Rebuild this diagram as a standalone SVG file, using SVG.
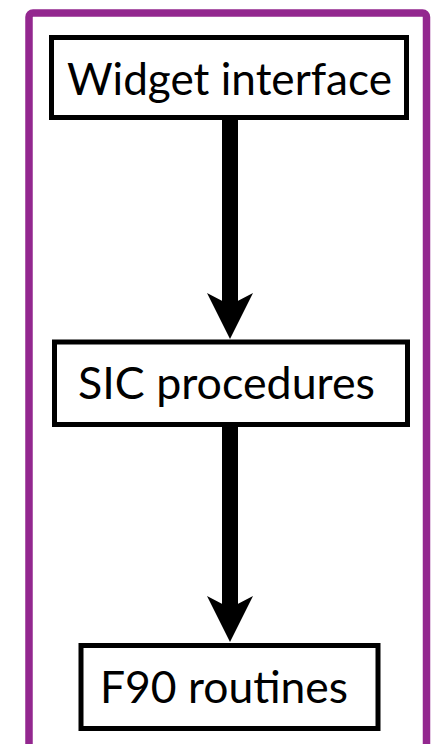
<svg xmlns="http://www.w3.org/2000/svg" width="432" height="744" viewBox="0 0 432 744">
  <style>
    .box { fill: #ffffff; stroke: #000000; stroke-width: 5; }
    .label { font-family: "Lato", "Open Sans", "Liberation Sans", sans-serif; font-size: 45px; fill: #000000; text-anchor: middle; }
    .flow { stroke: #000000; stroke-width: 16; fill: none; }
  </style>
  <defs>
    <marker id="head" markerUnits="userSpaceOnUse" markerWidth="48" markerHeight="50" viewBox="0 -25 48 50" refX="12" refY="0" orient="auto">
      <path d="M0,-23 L46,0 L0,23 L12,0 Z" fill="#000000"/>
    </marker>
  </defs>

  <rect width="432" height="744" fill="#ffffff"/>

  <!-- enclosing frame, open at the bottom -->
  <rect id="frame" x="29" y="13" width="397.5" height="780" rx="4" fill="none" stroke="#93278f" stroke-width="7.5"/>

  <g id="connectors">
    <line class="flow" x1="230" y1="120" x2="230" y2="305" marker-end="url(#head)"/>
    <line class="flow" x1="230" y1="427" x2="230" y2="608" marker-end="url(#head)"/>
  </g>

  <g id="widget-interface">
    <rect class="box" x="51.5" y="37.5" width="355" height="80"/>
    <text class="label" x="229.5" y="95" textLength="325" lengthAdjust="spacingAndGlyphs">Widget interface</text>
  </g>

  <g id="sic-procedures">
    <rect class="box" x="54.5" y="342" width="353" height="82.5"/>
    <text class="label" x="226.5" y="399" textLength="297" lengthAdjust="spacingAndGlyphs">SIC procedures</text>
  </g>

  <g id="f90-routines">
    <rect class="box" x="81" y="645.5" width="297" height="83"/>
    <text class="label" x="224" y="703" textLength="248" lengthAdjust="spacingAndGlyphs">F90 routines</text>
  </g>
</svg>
